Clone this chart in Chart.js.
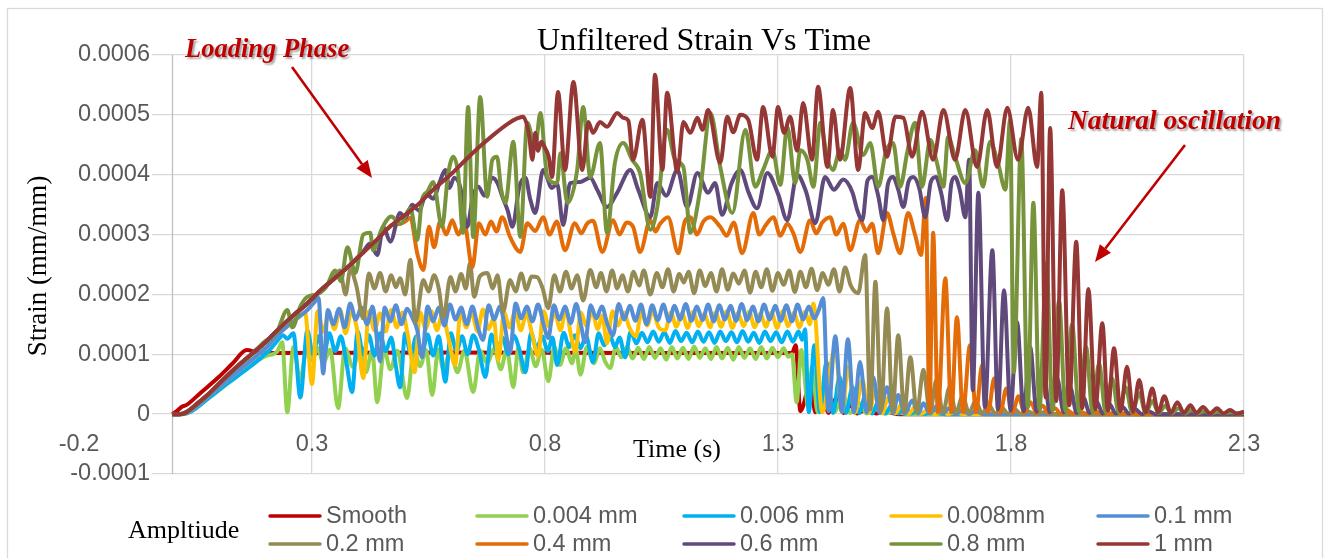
<!DOCTYPE html>
<html>
<head>
<meta charset="utf-8">
<title>Unfiltered Strain Vs Time</title>
<script src="https://cdn.jsdelivr.net/npm/chart.js@4.4.1/dist/chart.umd.min.js"></script>
<style>
  html, body { margin: 0; padding: 0; background: #fff; }
  #wrap { width: 1326px; height: 558px; position: relative; }
</style>
</head>
<body>
<div id="wrap"><canvas id="strainChart" width="1326" height="558"></canvas></div>
<script>
// ── Series data: [time (s), strain (microstrain)] ──
const smooth = [[0,0],[0.01,5],[0.02,12],[0.03,15],[0.06,35],[0.1,62],[0.13,85],[0.16,107],[0.18,104],[0.2,102],[0.6,103],[1.0,102],[1.33,102],[1.338,115],[1.348,5],[1.37,52],[1.38,3],[1.395,40],[1.408,2],[1.425,27],[1.44,2],[1.455,14],[1.47,1],[1.49,8],[1.51,1],[1.53,4],[1.56,0],[2.3,0]];

const amp004 = [[0,0],[0.02,0],[0.04,5],[0.08,28],[0.12,52],[0.16,76],[0.2,97],[0.225,104],[0.236,120],[0.247,3],[0.26,112],[0.275,57],[0.288,108],[0.3,90],[0.313,110],[0.324,85],[0.339,108],[0.356,10],[0.371,110],[0.388,79],[0.403,108],[0.416,70],[0.429,106],[0.44,20],[0.455,108],[0.468,75],[0.483,106],[0.504,27],[0.519,108],[0.532,80],[0.545,107],[0.558,32],[0.571,108],[0.582,74],[0.597,106],[0.612,70],[0.627,106],[0.646,37],[0.661,106],[0.676,85],[0.691,110],[0.705,75],[0.718,108],[0.732,45],[0.743,112],[0.753,70],[0.767,110],[0.78,80],[0.793,108],[0.807,55],[0.82,112],[0.832,82],[0.845,110],[0.858,85],[0.866,110],[0.876,66],[0.89,112],[0.905,85],[0.918,110],[0.929,88],[0.94,77],[0.952,112],[0.964,95],[0.976,112],[0.988,93],[1.0,111],[1.012,92],[1.024,112],[1.036,94],[1.048,110],[1.06,91],[1.072,112],[1.084,93],[1.096,111],[1.108,92],[1.12,113],[1.132,94],[1.144,110],[1.156,92],[1.168,112],[1.18,93],[1.192,111],[1.204,91],[1.216,112],[1.228,94],[1.24,110],[1.252,92],[1.264,112],[1.276,93],[1.288,111],[1.3,95],[1.312,110],[1.322,96],[1.33,100],[1.34,20],[1.35,107],[1.365,12],[1.373,79],[1.385,3],[1.405,40],[1.42,3],[1.44,32],[1.455,2],[1.475,18],[1.49,1],[1.51,9],[1.53,1],[1.55,4],[1.58,0],[2.3,0]];

const amp006 = [[0,0],[0.02,0],[0.04,4],[0.08,28],[0.12,52],[0.16,75],[0.19,94],[0.21,108],[0.225,122],[0.238,132],[0.247,126],[0.26,135],[0.275,28],[0.29,140],[0.302,100],[0.314,130],[0.325,95],[0.337,135],[0.35,105],[0.362,130],[0.374,85],[0.386,37],[0.398,138],[0.41,100],[0.422,132],[0.434,98],[0.446,135],[0.458,105],[0.47,128],[0.48,80],[0.489,45],[0.5,135],[0.512,100],[0.524,130],[0.536,102],[0.548,133],[0.56,98],[0.572,130],[0.586,54],[0.598,135],[0.61,105],[0.622,130],[0.634,100],[0.646,132],[0.658,108],[0.672,62],[0.685,133],[0.697,105],[0.709,128],[0.721,100],[0.733,131],[0.745,108],[0.758,70],[0.77,135],[0.782,110],[0.794,130],[0.806,105],[0.816,128],[0.826,82],[0.84,136],[0.852,112],[0.864,132],[0.876,110],[0.888,130],[0.903,87],[0.915,135],[0.927,115],[0.939,132],[0.95,112],[0.96,128],[0.972,95],[0.984,138],[0.996,118],[1.008,136],[1.02,120],[1.032,138],[1.044,121],[1.056,137],[1.068,119],[1.08,139],[1.092,122],[1.104,136],[1.116,120],[1.128,138],[1.14,121],[1.152,137],[1.164,119],[1.176,138],[1.188,122],[1.2,137],[1.212,120],[1.224,139],[1.236,121],[1.248,136],[1.26,119],[1.272,138],[1.284,122],[1.296,137],[1.308,120],[1.32,138],[1.332,121],[1.344,138],[1.352,124],[1.358,142],[1.366,3],[1.378,115],[1.39,3],[1.404,88],[1.418,2],[1.432,62],[1.446,2],[1.46,45],[1.474,2],[1.488,32],[1.502,1],[1.516,22],[1.53,1],[1.544,15],[1.558,1],[1.572,10],[1.586,1],[1.6,7],[1.614,0],[1.63,4],[1.66,0],[2.3,0]];

const amp008 = [[0,0],[0.02,0],[0.04,6],[0.08,32],[0.12,58],[0.16,84],[0.2,110],[0.23,135],[0.255,152],[0.27,162],[0.285,170],[0.3,50],[0.312,172],[0.324,138],[0.336,168],[0.348,142],[0.36,175],[0.372,135],[0.384,170],[0.396,145],[0.41,60],[0.422,172],[0.434,140],[0.446,168],[0.458,138],[0.47,174],[0.482,145],[0.494,170],[0.506,130],[0.52,70],[0.532,170],[0.544,142],[0.556,172],[0.568,140],[0.58,168],[0.592,130],[0.607,82],[0.619,172],[0.631,145],[0.643,170],[0.655,138],[0.667,175],[0.679,142],[0.69,160],[0.7,90],[0.712,170],[0.724,145],[0.736,172],[0.748,140],[0.76,168],[0.772,135],[0.785,97],[0.797,172],[0.809,146],[0.821,170],[0.833,140],[0.845,175],[0.855,135],[0.865,104],[0.877,170],[0.889,147],[0.901,172],[0.913,142],[0.923,165],[0.933,118],[0.945,172],[0.957,148],[0.969,170],[0.981,145],[0.995,130],[1.007,170],[1.019,148],[1.031,172],[1.044,145],[1.058,140],[1.07,170],[1.082,146],[1.094,169],[1.106,144],[1.118,171],[1.13,147],[1.142,168],[1.154,145],[1.166,170],[1.178,146],[1.19,172],[1.202,144],[1.214,169],[1.226,147],[1.238,171],[1.25,145],[1.262,168],[1.274,146],[1.286,170],[1.298,144],[1.31,172],[1.322,147],[1.334,170],[1.346,145],[1.358,171],[1.368,150],[1.376,185],[1.395,3],[1.423,112],[1.437,3],[1.451,79],[1.465,2],[1.481,57],[1.495,2],[1.509,40],[1.523,1],[1.537,28],[1.551,1],[1.567,18],[1.581,1],[1.595,13],[1.609,1],[1.623,9],[1.637,0],[1.651,6],[1.665,0],[1.68,3],[1.7,0],[2.3,0]];

const amp01 = [[0,0],[0.02,0],[0.04,6],[0.08,32],[0.12,58],[0.16,84],[0.2,110],[0.23,135],[0.26,155],[0.29,174],[0.303,185],[0.314,194],[0.324,68],[0.334,174],[0.346,150],[0.358,176],[0.37,145],[0.382,185],[0.394,158],[0.406,178],[0.418,150],[0.43,180],[0.446,88],[0.456,178],[0.468,155],[0.48,182],[0.492,150],[0.504,176],[0.516,160],[0.526,140],[0.536,95],[0.548,180],[0.56,155],[0.572,178],[0.584,148],[0.596,183],[0.608,158],[0.62,178],[0.632,150],[0.644,180],[0.656,145],[0.667,124],[0.679,182],[0.691,158],[0.703,180],[0.713,150],[0.725,104],[0.737,185],[0.749,160],[0.761,180],[0.773,155],[0.785,183],[0.797,150],[0.807,127],[0.819,182],[0.831,158],[0.843,180],[0.855,152],[0.867,184],[0.877,150],[0.886,120],[0.898,182],[0.91,160],[0.922,180],[0.934,150],[0.946,132],[0.958,184],[0.97,158],[0.982,181],[0.994,156],[1.006,183],[1.018,150],[1.03,182],[1.042,157],[1.054,183],[1.066,155],[1.078,181],[1.09,158],[1.102,184],[1.114,156],[1.126,180],[1.138,157],[1.15,183],[1.162,155],[1.174,182],[1.186,158],[1.198,181],[1.21,156],[1.222,184],[1.234,157],[1.246,180],[1.258,155],[1.27,183],[1.282,158],[1.294,181],[1.306,156],[1.318,182],[1.33,155],[1.342,183],[1.354,158],[1.366,180],[1.378,160],[1.388,175],[1.397,194],[1.408,5],[1.423,130],[1.437,4],[1.45,125],[1.463,3],[1.476,87],[1.49,3],[1.504,62],[1.518,2],[1.534,45],[1.547,2],[1.558,32],[1.572,1],[1.588,23],[1.601,1],[1.612,18],[1.626,1],[1.64,13],[1.654,1],[1.668,10],[1.682,0],[1.696,7],[1.71,0],[1.724,5],[1.74,0],[2.3,0]];

const amp02 = [[0,0],[0.015,0],[0.03,3],[0.05,15],[0.08,35],[0.11,58],[0.14,80],[0.17,100],[0.2,120],[0.232,145],[0.26,165],[0.29,185],[0.32,208],[0.345,225],[0.36,240],[0.372,200],[0.382,241],[0.395,215],[0.41,160],[0.422,235],[0.434,210],[0.446,236],[0.458,205],[0.47,232],[0.48,212],[0.489,227],[0.5,200],[0.511,258],[0.522,154],[0.539,224],[0.55,205],[0.562,232],[0.572,210],[0.582,162],[0.597,229],[0.608,205],[0.62,234],[0.63,210],[0.639,252],[0.648,196],[0.66,230],[0.676,236],[0.688,210],[0.698,232],[0.71,171],[0.725,224],[0.737,205],[0.749,235],[0.76,208],[0.771,230],[0.783,229],[0.795,210],[0.807,177],[0.82,232],[0.832,205],[0.845,238],[0.857,210],[0.869,232],[0.882,190],[0.897,241],[0.91,212],[0.92,236],[0.932,205],[0.944,240],[0.955,210],[0.966,232],[0.978,205],[0.99,238],[1.002,215],[1.012,240],[1.026,200],[1.04,236],[1.052,212],[1.064,242],[1.076,205],[1.088,234],[1.098,220],[1.108,238],[1.12,202],[1.132,240],[1.144,214],[1.156,236],[1.168,205],[1.18,242],[1.192,208],[1.204,235],[1.216,218],[1.228,240],[1.24,203],[1.252,238],[1.264,212],[1.276,242],[1.288,206],[1.3,236],[1.312,216],[1.324,240],[1.336,204],[1.348,238],[1.36,212],[1.372,243],[1.384,207],[1.396,236],[1.408,216],[1.42,242],[1.432,205],[1.444,245],[1.456,215],[1.472,202],[1.487,266],[1.498,8],[1.509,221],[1.521,6],[1.534,177],[1.546,5],[1.558,132],[1.571,4],[1.584,95],[1.598,3],[1.612,74],[1.626,3],[1.64,57],[1.654,2],[1.668,45],[1.682,2],[1.696,30],[1.71,2],[1.724,22],[1.738,1],[1.752,16],[1.766,1],[1.78,11],[1.794,1],[1.808,8],[1.822,0],[1.836,5],[1.85,0],[1.87,3],[1.9,0],[2.3,0]];

const amp04 = [[0,0],[0.015,0],[0.03,3],[0.05,15],[0.08,35],[0.11,58],[0.14,80],[0.17,100],[0.2,120],[0.232,145],[0.26,165],[0.29,185],[0.32,208],[0.35,228],[0.38,248],[0.41,270],[0.44,292],[0.47,315],[0.489,318],[0.5,322],[0.511,328],[0.526,268],[0.539,241],[0.551,313],[0.562,279],[0.575,322],[0.588,300],[0.601,324],[0.614,300],[0.627,318],[0.644,245],[0.658,319],[0.672,300],[0.684,322],[0.696,305],[0.708,329],[0.725,296],[0.747,271],[0.762,319],[0.779,306],[0.796,329],[0.81,300],[0.825,322],[0.843,274],[0.864,319],[0.878,302],[0.89,318],[0.903,323],[0.923,271],[0.946,324],[0.96,300],[0.975,320],[0.989,313],[1.004,271],[1.026,324],[1.037,305],[1.047,318],[1.064,329],[1.086,269],[1.1,322],[1.112,329],[1.126,300],[1.14,322],[1.155,329],[1.176,313],[1.19,298],[1.205,320],[1.223,269],[1.247,336],[1.26,300],[1.273,315],[1.29,329],[1.305,298],[1.32,318],[1.333,302],[1.348,271],[1.369,324],[1.382,302],[1.395,320],[1.412,329],[1.425,300],[1.44,318],[1.455,274],[1.476,324],[1.49,305],[1.502,318],[1.515,269],[1.534,336],[1.548,300],[1.562,269],[1.579,336],[1.594,300],[1.607,266],[1.617,361],[1.625,4],[1.633,303],[1.643,3],[1.659,227],[1.672,3],[1.684,162],[1.697,3],[1.712,115],[1.725,3],[1.738,82],[1.751,3],[1.764,60],[1.777,2],[1.79,43],[1.803,2],[1.816,30],[1.829,2],[1.842,20],[1.855,2],[1.868,14],[1.881,1],[1.894,10],[1.907,1],[1.92,7],[1.933,1],[1.946,5],[1.96,1],[1.98,4],[2.0,1],[2.03,2],[2.06,0],[2.3,0]];

const amp06 = [[0,0],[0.015,0],[0.03,3],[0.05,15],[0.08,35],[0.11,58],[0.14,80],[0.17,100],[0.2,120],[0.232,145],[0.26,165],[0.29,185],[0.32,208],[0.35,228],[0.38,248],[0.41,272],[0.425,285],[0.44,266],[0.453,313],[0.468,288],[0.489,336],[0.5,328],[0.515,350],[0.53,340],[0.545,368],[0.56,360],[0.575,390],[0.586,408],[0.595,378],[0.605,395],[0.618,380],[0.633,313],[0.645,363],[0.657,380],[0.67,365],[0.687,395],[0.698,386],[0.71,360],[0.72,340],[0.73,313],[0.745,380],[0.758,395],[0.768,360],[0.779,336],[0.796,408],[0.815,378],[0.826,385],[0.839,316],[0.854,386],[0.876,388],[0.897,395],[0.912,375],[0.933,346],[0.955,370],[0.983,408],[1.0,375],[1.026,329],[1.041,386],[1.06,365],[1.084,408],[1.105,346],[1.127,403],[1.15,370],[1.165,386],[1.18,333],[1.2,385],[1.219,408],[1.237,370],[1.255,344],[1.277,403],[1.3,368],[1.32,324],[1.341,400],[1.36,372],[1.38,319],[1.401,396],[1.42,375],[1.44,392],[1.46,370],[1.47,341],[1.481,324],[1.492,390],[1.502,396],[1.515,365],[1.526,324],[1.536,385],[1.547,396],[1.558,375],[1.569,346],[1.58,388],[1.59,396],[1.603,378],[1.616,329],[1.628,388],[1.639,396],[1.65,370],[1.663,324],[1.672,385],[1.68,396],[1.69,375],[1.702,329],[1.71,425],[1.718,40],[1.73,370],[1.744,12],[1.76,274],[1.772,8],[1.785,207],[1.799,6],[1.813,154],[1.827,5],[1.841,112],[1.855,4],[1.869,85],[1.883,3],[1.899,60],[1.913,3],[1.927,45],[1.941,2],[1.955,28],[1.969,2],[1.983,22],[1.997,1],[2.011,17],[2.025,1],[2.039,12],[2.053,1],[2.067,8],[2.081,0],[2.095,5],[2.11,0],[2.3,0]];

const amp08 = [[0,0],[0.015,0],[0.03,3],[0.05,15],[0.08,35],[0.11,58],[0.14,80],[0.17,100],[0.2,122],[0.225,138],[0.247,174],[0.258,145],[0.275,180],[0.29,196],[0.31,200],[0.33,212],[0.35,240],[0.362,222],[0.376,279],[0.393,236],[0.41,300],[0.425,303],[0.431,274],[0.45,310],[0.47,330],[0.49,318],[0.511,344],[0.526,291],[0.536,358],[0.548,372],[0.56,388],[0.579,313],[0.592,400],[0.603,430],[0.614,400],[0.624,303],[0.635,513],[0.646,296],[0.661,530],[0.676,363],[0.687,425],[0.697,430],[0.706,375],[0.715,353],[0.732,455],[0.747,296],[0.762,487],[0.779,446],[0.79,503],[0.805,396],[0.826,386],[0.833,436],[0.848,353],[0.869,408],[0.882,513],[0.897,396],[0.918,453],[0.933,303],[0.95,420],[0.968,453],[0.987,425],[1.004,403],[1.026,308],[1.041,346],[1.062,475],[1.079,425],[1.097,413],[1.112,303],[1.133,375],[1.155,503],[1.176,413],[1.202,336],[1.23,475],[1.251,380],[1.268,408],[1.288,441],[1.305,383],[1.32,480],[1.337,386],[1.348,441],[1.363,425],[1.376,380],[1.391,487],[1.405,430],[1.418,408],[1.433,441],[1.444,425],[1.461,487],[1.483,433],[1.498,453],[1.515,380],[1.532,440],[1.547,453],[1.562,380],[1.578,440],[1.594,487],[1.609,380],[1.627,458],[1.641,420],[1.655,380],[1.665,463],[1.68,430],[1.702,386],[1.723,441],[1.74,380],[1.755,455],[1.772,420],[1.788,375],[1.798,492],[1.806,70],[1.822,460],[1.836,12],[1.848,353],[1.861,8],[1.876,252],[1.889,6],[1.903,190],[1.917,5],[1.931,150],[1.946,4],[1.961,112],[1.975,4],[1.989,85],[2.003,3],[2.017,60],[2.031,3],[2.046,45],[2.06,2],[2.075,35],[2.089,2],[2.103,22],[2.117,2],[2.131,14],[2.145,1],[2.159,10],[2.173,1],[2.187,7],[2.201,1],[2.215,5],[2.229,1],[2.243,4],[2.257,1],[2.271,3],[2.285,1],[2.3,2]];

const amp1 = [[0,0],[0.015,0],[0.03,3],[0.05,15],[0.08,35],[0.11,58],[0.14,80],[0.17,100],[0.2,120],[0.232,145],[0.26,165],[0.29,185],[0.32,208],[0.35,228],[0.38,248],[0.41,270],[0.44,292],[0.47,315],[0.5,333],[0.53,352],[0.56,375],[0.6,402],[0.63,425],[0.66,447],[0.69,467],[0.72,485],[0.74,494],[0.753,497],[0.765,470],[0.773,425],[0.779,470],[0.785,440],[0.792,455],[0.8,445],[0.808,430],[0.815,396],[0.828,538],[0.843,408],[0.861,555],[0.88,408],[0.893,488],[0.903,470],[0.918,488],[0.933,480],[0.955,503],[0.968,495],[0.979,490],[0.989,425],[1.009,492],[1.026,363],[1.036,567],[1.052,408],[1.062,537],[1.084,405],[1.097,488],[1.112,470],[1.127,495],[1.138,475],[1.15,508],[1.176,420],[1.191,497],[1.204,471],[1.219,500],[1.236,492],[1.255,425],[1.268,513],[1.288,430],[1.3,513],[1.313,470],[1.326,497],[1.341,440],[1.354,520],[1.373,425],[1.386,547],[1.406,413],[1.418,508],[1.433,425],[1.455,545],[1.472,408],[1.487,503],[1.502,478],[1.515,505],[1.534,430],[1.552,497],[1.569,495],[1.588,430],[1.609,505],[1.633,425],[1.655,508],[1.68,425],[1.702,508],[1.727,413],[1.749,508],[1.77,413],[1.792,512],[1.815,425],[1.837,512],[1.856,413],[1.865,537],[1.874,28],[1.884,478],[1.897,22],[1.91,374],[1.925,15],[1.94,288],[1.953,10],[1.966,209],[1.981,8],[1.996,152],[2.008,6],[2.021,110],[2.035,5],[2.049,79],[2.062,4],[2.075,57],[2.089,3],[2.103,43],[2.116,3],[2.129,30],[2.143,2],[2.157,20],[2.171,2],[2.185,15],[2.198,2],[2.212,12],[2.227,1],[2.242,10],[2.256,1],[2.27,7],[2.284,1],[2.3,4]];

const seriesNames = ['Smooth', '0.004 mm', '0.006 mm', '0.008mm', '0.1 mm', '0.2 mm', '0.4 mm', '0.6 mm', '0.8 mm', '1 mm'];
const seriesPoints = [smooth, amp004, amp006, amp008, amp01, amp02, amp04, amp06, amp08, amp1];
const seriesColors = ['#C00000', '#92D050', '#00B0F0', '#FFC000', '#558ED5', '#948A54', '#E36C09', '#604A7B', '#77933C', '#953735'];

// ── Datasets (later series are painted on top) ──
const datasets = seriesPoints.map((pts, i) => ({
  label: seriesNames[i],
  data: pts.map(p => ({ x: p[0], y: p[1] / 1e6 })),
  borderColor: seriesColors[i],
  backgroundColor: seriesColors[i],
  borderWidth: 4,
  pointRadius: 0,
  cubicInterpolationMode: 'monotone',
  fill: false,
  order: seriesPoints.length - i
}));

function arrow(c, x1, y1, x2, y2, color) {
  const ang = Math.atan2(y2 - y1, x2 - x1);
  const head = 17, half = 7;
  const bx = x2 - head * Math.cos(ang), by = y2 - head * Math.sin(ang);
  c.strokeStyle = color;
  c.fillStyle = color;
  c.lineWidth = 2.6;
  c.beginPath();
  c.moveTo(x1, y1);
  c.lineTo(bx, by);
  c.stroke();
  c.beginPath();
  c.moveTo(x2, y2);
  c.lineTo(bx + half * Math.sin(ang), by - half * Math.cos(ang));
  c.lineTo(bx - half * Math.sin(ang), by + half * Math.cos(ang));
  c.closePath();
  c.fill();
}

function shadowText(c, text, x, y) {
  c.save();
  c.shadowColor = 'rgba(0,0,0,0.35)';
  c.shadowOffsetX = 2;
  c.shadowOffsetY = 2;
  c.shadowBlur = 2;
  c.fillText(text, x, y);
  c.restore();
}

// ── Frame, axis labels, titles, legend and notes ──
const decor = {
  id: 'decor',
  beforeDraw(chart) {
    const c = chart.ctx;
    c.save();
    c.fillStyle = '#fff';
    c.fillRect(0, 0, chart.width, chart.height);
    c.strokeStyle = '#D9D9D9';
    c.lineWidth = 1.3;
    c.strokeRect(7.5, 8.5, 1315, 570);
    c.restore();
  },
  beforeDatasetsDraw(chart) {
    const { ctx: c, chartArea: a, scales: { x } } = chart;
    c.save();
    // tick label column stays clear of grid lines
    c.fillStyle = '#fff';
    c.fillRect(a.left - 2, a.top - 2, 154 - a.left, a.bottom - a.top + 4);
    const x0 = Math.round(x.getPixelForValue(0)) + 0.5;
    c.strokeStyle = '#BFBFBF';
    c.lineWidth = 1.3;
    c.beginPath();
    c.moveTo(x0, a.top);
    c.lineTo(x0, a.bottom);
    c.stroke();
    c.restore();
  },
  afterDraw(chart) {
    const { ctx: c, scales: { x, y } } = chart;
    c.save();

    // tick labels
    c.font = '23.5px "Liberation Sans", Arial, sans-serif';
    c.fillStyle = '#595959';
    c.textBaseline = 'middle';
    c.textAlign = 'right';
    y.ticks.forEach(t => {
      const v = Math.round(t.value * 1e4) / 1e4;
      c.fillText(v === 0 ? '0' : v.toFixed(4), 150, y.getPixelForValue(t.value));
    });
    c.textAlign = 'center';
    x.ticks.forEach(t => {
      c.fillText((Math.round(t.value * 10) / 10).toFixed(1), x.getPixelForValue(t.value), 445);
    });

    // chart + axis titles
    c.fillStyle = '#000';
    c.font = '32px "Liberation Serif", "Times New Roman", serif';
    c.textAlign = 'center';
    c.textBaseline = 'alphabetic';
    c.fillText('Unfiltered Strain Vs Time', 704, 50);
    c.font = '26px "Liberation Serif", "Times New Roman", serif';
    c.fillText('Time (s)', 677, 457);
    c.save();
    c.translate(46, 266);
    c.rotate(-Math.PI / 2);
    c.font = '27px "Liberation Serif", "Times New Roman", serif';
    c.fillText('Strain (mm/mm)', 0, 0);
    c.restore();

    // legend
    c.textAlign = 'left';
    c.fillText('Ampltiude', 128, 538);
    const colX = [268, 475, 682, 889, 1096];
    const rowY = [516, 544];
    c.font = '23.5px "Liberation Sans", Arial, sans-serif';
    c.textBaseline = 'middle';
    seriesNames.forEach((name, i) => {
      const lx = colX[i % 5], ly = rowY[Math.floor(i / 5)];
      c.strokeStyle = seriesColors[i];
      c.lineWidth = 3.5;
      c.lineCap = 'round';
      c.beginPath();
      c.moveTo(lx + 2, ly);
      c.lineTo(lx + 52, ly);
      c.stroke();
      c.fillStyle = '#595959';
      c.fillText(name, lx + 58, ly + 1);
    });

    // notes
    c.textBaseline = 'alphabetic';
    c.fillStyle = '#C00000';
    c.font = 'italic bold 26.5px "Liberation Serif", "Times New Roman", serif';
    shadowText(c, 'Loading Phase', 185, 57);
    c.font = 'italic bold 27.5px "Liberation Serif", "Times New Roman", serif';
    shadowText(c, 'Natural oscillation', 1068, 129);
    c.lineCap = 'butt';
    arrow(c, 292, 67, 372, 178, '#C00000');
    arrow(c, 1185, 145, 1095, 262, '#C00000');

    c.restore();
  }
};

new Chart(document.getElementById('strainChart'), {
  type: 'line',
  data: { datasets },
  options: {
    responsive: false,
    animation: false,
    events: [],
    layout: { padding: { left: 79, right: 82, top: 55, bottom: 84 } },
    plugins: {
      legend: { display: false },
      tooltip: { enabled: false },
      title: { display: false }
    },
    scales: {
      x: {
        type: 'linear',
        min: -0.2,
        max: 2.3,
        ticks: { display: false, stepSize: 0.5 },
        grid: { color: '#D9D9D9', lineWidth: 1.3, drawTicks: false },
        border: { display: false },
        afterFit: s => { s.height = 0; }
      },
      y: {
        type: 'linear',
        min: -0.0001,
        max: 0.0006,
        ticks: { display: false, stepSize: 0.0001 },
        grid: { color: '#D9D9D9', lineWidth: 1.3, drawTicks: false },
        border: { display: false },
        afterFit: s => { s.width = 0; }
      }
    }
  },
  plugins: [decor]
});
</script>
</body>
</html>
